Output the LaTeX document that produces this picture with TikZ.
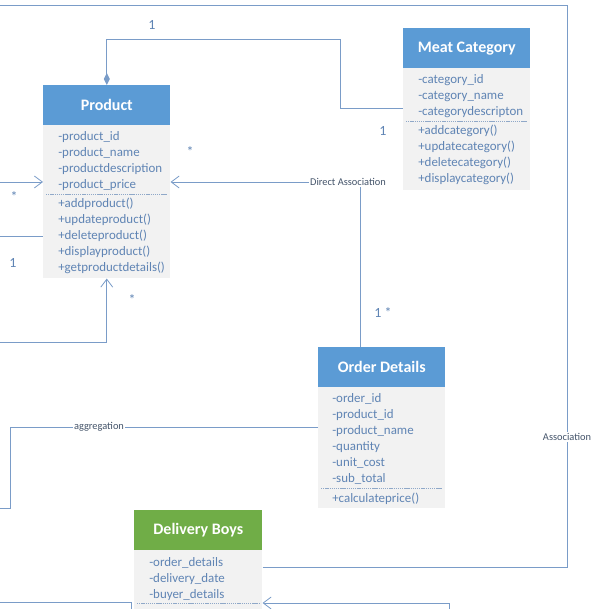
\documentclass[tikz,border=0pt]{standalone}
\usepackage{fontspec}
\setmainfont{Carlito}
\usetikzlibrary{arrows.meta,calc}
\definecolor{hdrblue}{HTML}{5B9BD5}
\definecolor{hdrgreen}{HTML}{70AD47}
\definecolor{bodygray}{HTML}{F2F2F2}
\definecolor{txt}{HTML}{5F84B4}
\definecolor{ln}{HTML}{7A9CC8}
\definecolor{lbl}{HTML}{44546A}
\definecolor{sep}{HTML}{8FA8C8}
\begin{document}
\begin{tikzpicture}[x=0.75pt,y=-0.75pt,
  hdr/.style={fill=hdrblue,text=white,font=\bfseries\fontsize{12}{14}\selectfont,
    minimum width=95.25pt,minimum height=30pt,inner sep=0pt,anchor=north west},
  hdrg/.style={hdr,fill=hdrgreen},
  body/.style={fill=bodygray,minimum width=95.25pt,inner sep=0pt,anchor=north west},
  attr/.style={text=txt,font=\fontsize{9.7}{11}\selectfont,inner sep=0pt,anchor=base west},
  sepline/.style={draw=sep,dash pattern=on 1pt off 0.6pt,line width=0.4pt},
  conn/.style={draw=ln,line width=0.7pt},
  openarr/.style={conn,-{Straight Barb[length=6pt,width=9pt,line width=0.6pt]}},
  mult/.style={text=txt,font=\fontsize{10.5}{12}\selectfont,inner sep=0pt},
  clbl/.style={text=lbl,font=\fontsize{7.8}{9}\selectfont,fill=white,inner sep=1pt}
]
\useasboundingbox (0,0) rectangle (597,609);
\clip (0,0) rectangle (597,609);

% ---------- Product ----------
\node[body,minimum height=114.75pt] (prodB) at (43,125) {};
\node[hdr] (prodH) at (43,85) {Product};
\foreach \t [count=\i] in {-product\_id,-product\_name,-productdescription,-product\_price}
  \node[attr] (pa\i) at (58,{141+16*(\i-1)}) {\t};
\draw[sepline] (46,194) -- (167,194);
\foreach \t [count=\i] in {+addproduct(),+updateproduct(),+deleteproduct(),+displayproduct(),+getproductdetails()}
  \node[attr] (pm\i) at (58,{208+16*(\i-1)}) {\t};

% ---------- Meat Category ----------
\node[body,minimum height=91.5pt] (meatB) at (403,68) {};
\node[hdr] (meatH) at (403,28) {Meat Category};
\foreach \t [count=\i] in {-category\_id,-category\_name,-categorydescripton}
  \node[attr] (ma\i) at (418,{84+16*(\i-1)}) {\t};
\draw[sepline] (406,121) -- (527,121);
\foreach \t [count=\i] in {+addcategory(),+updatecategory(),+deletecategory(),+displaycategory()}
  \node[attr] (mm\i) at (418,{135+16*(\i-1)}) {\t};

% ---------- Order Details ----------
\node[body,minimum height=90.75pt] (ordB) at (318,387) {};
\node[hdr] (ordH) at (318,347) {Order Details};
\foreach \t [count=\i] in {-order\_id,-product\_id,-product\_name,-quantity,-unit\_cost,-sub\_total}
  \node[attr] (oa\i) at (332,{402+16*(\i-1)}) {\t};
\draw[sepline] (321,488) -- (442,488);
\node[attr] (om1) at (332,502) {+calculateprice()};

% ---------- Delivery Boys ----------
\node[body,minimum height=60pt,minimum width=96pt] (delB) at (134,550) {};
\node[hdrg,minimum width=96pt] (delH) at (134,510) {Delivery Boys};
\foreach \t [count=\i] in {-order\_details,-delivery\_date,-buyer\_details}
  \node[attr] (da\i) at (149,{566+16*(\i-1)}) {\t};
\draw[sepline] (137,603) -- (259,603);

% ---------- free ends ----------
\coordinate (topL) at (0,5);
\coordinate (lft1) at (0,182);
\coordinate (lft2) at (0,236);
\coordinate (lft3) at (0,342);
\coordinate (lft4) at (0,508);
\coordinate (botL) at (0,602);
\coordinate (botR) at (449,620);
\coordinate (botM) at (131,620);

% composition Product -- Meat Category
\draw[conn,{Diamond[length=9pt,width=4.5pt]}-] (prodH.north) -- ++(0,-46) -| (340,108) -- (meatB.west |- 340,108);
\node[mult] (m1) at (152,25) {1};
\node[mult] (m2) at (383,131) {1};

% direct association Order Details -> Product
\draw[openarr] (360,347) -- (360,182) -- (prodB.east |- 360,182);
\node[clbl] (dalbl) at (348,182) {Direct Association};
\node[mult] (m3) at (190,152) {*};
\node[mult] (m4) at (383,313) {1 *};

% left connectors into Product
\draw[openarr] (lft1) -- (prodB.west |- lft1);
\node[mult] (m5) at (14,197) {*};
\draw[conn] (lft2) -- (prodB.west |- lft2);
\node[mult] (m6) at (13,263) {1};
\draw[openarr] (lft3) -| (prodB.south);
\node[mult] (m7) at (132,300) {*};

% aggregation
\draw[conn] (ordB.west |- 0,427) -- (10,427) -- (10,508) -- (lft4);
\node[clbl] (aglbl) at (99,427) {aggregation};

% association
\draw[conn] (delB.east |- 0,567) -- (567,567) -- (567,5) -- (topL);
\node[clbl] (aslbl) at (567,437) {Association};

% bottom connectors
\draw[conn] (botL) -| (botM);
\draw[openarr] (botR) |- (delB.east |- 0,603);
\end{tikzpicture}
\end{document}
